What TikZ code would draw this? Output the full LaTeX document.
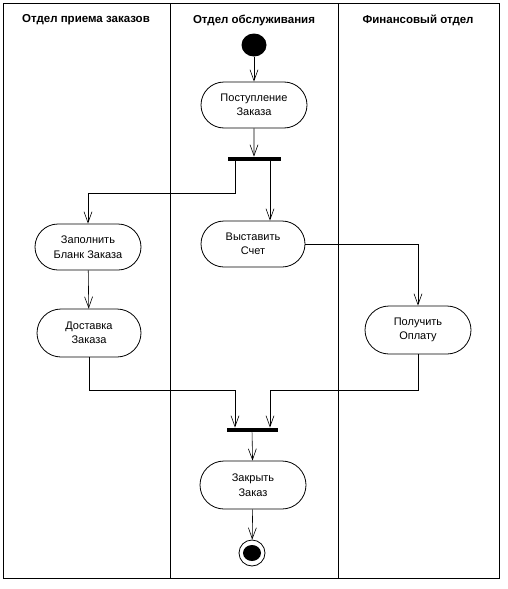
\documentclass[tikz,border=0pt]{standalone}
\usepackage{fontspec}
\setmainfont{Liberation Sans}
\usepackage{tikz}
\usetikzlibrary{positioning,calc,shapes.misc,shapes.geometric,arrows.meta}

\begin{document}
\begin{tikzpicture}[
    x=1pt, y=-1pt,
    action/.style={rounded rectangle, draw, thick, minimum width=110pt, minimum height=46pt, align=center, font=\fontsize{11}{14.5}\selectfont, inner sep=2pt},
    bar/.style={rectangle, fill=black, minimum width=53pt, minimum height=4.5pt, inner sep=0pt},
    lane/.style={font=\bfseries\fontsize{11.5}{13}\selectfont},
    arrow/.style={-{Straight Barb[length=11pt, width=8pt]}, semithick},
    line/.style={semithick}
]
    \useasboundingbox (0,0) rectangle (508,589);

    % frame and swimlanes
    \draw[thick] (3,3) rectangle (499,578);
    \draw[semithick] (170,3) -- (170,578);
    \draw[semithick] (338,3) -- (338,578);
    \node[lane] (lane1) at (86,20) {Отдел приема заказов};
    \node[lane] (lane2) at (254,20) {Отдел обслуживания};
    \node[lane] (lane3) at (418,20) {Финансовый отдел};

    % nodes
    \node[ellipse, fill=black, minimum width=25pt, minimum height=23pt, inner sep=0pt] (start) at (254,45) {};
    \node[action] (post) at (254,105) {Поступление\\Заказа};
    \node[bar] (fork) at (254,159) {};
    \node[action] (fill) at (88,247) {Заполнить\\Бланк Заказа};
    \node[action, minimum width=108pt] (bill) at (253,244) {Выставить\\Счет};
    \node[action, minimum width=108pt, minimum height=48pt] (deliv) at (89,333) {Доставка\\Заказа};
    \node[action, minimum height=48pt] (pay) at (418,330) {Получить\\Оплату};
    \node[bar, minimum width=51pt] (join) at (252,430) {};
    \node[action, minimum height=48pt] (close) at (253,485) {Закрыть\\Заказ};
    \node[circle, draw, thick, minimum size=26pt, inner sep=0pt] (end) at (252,553) {};
    \node[ellipse, fill=black, minimum width=18pt, minimum height=16pt, inner sep=0pt] (endin) at (end) {};

    % connectors
    \draw[arrow] (start) -- (post);
    \draw[arrow] (post) -- (fork);
    \draw[arrow] ([xshift=-19pt]fork.south) -- ++(0,32) -| (fill.north);
    \draw[arrow] ([xshift=16pt]fork.south) -- ([xshift=16pt]fork.south |- bill.north);
    \draw[arrow] (fill) -- (deliv);
    \draw[arrow] (bill.east) -| (pay.north);
    \draw[arrow] (deliv.south) -- ++(0,33) -| ([xshift=-17pt]join.north);
    \draw[arrow] (pay.south) -- ++(0,36) -| ([xshift=18pt]join.north);
    \draw[arrow] (join) -- (close);
    \draw[arrow] (close) -- (end);
\end{tikzpicture}
\end{document}
